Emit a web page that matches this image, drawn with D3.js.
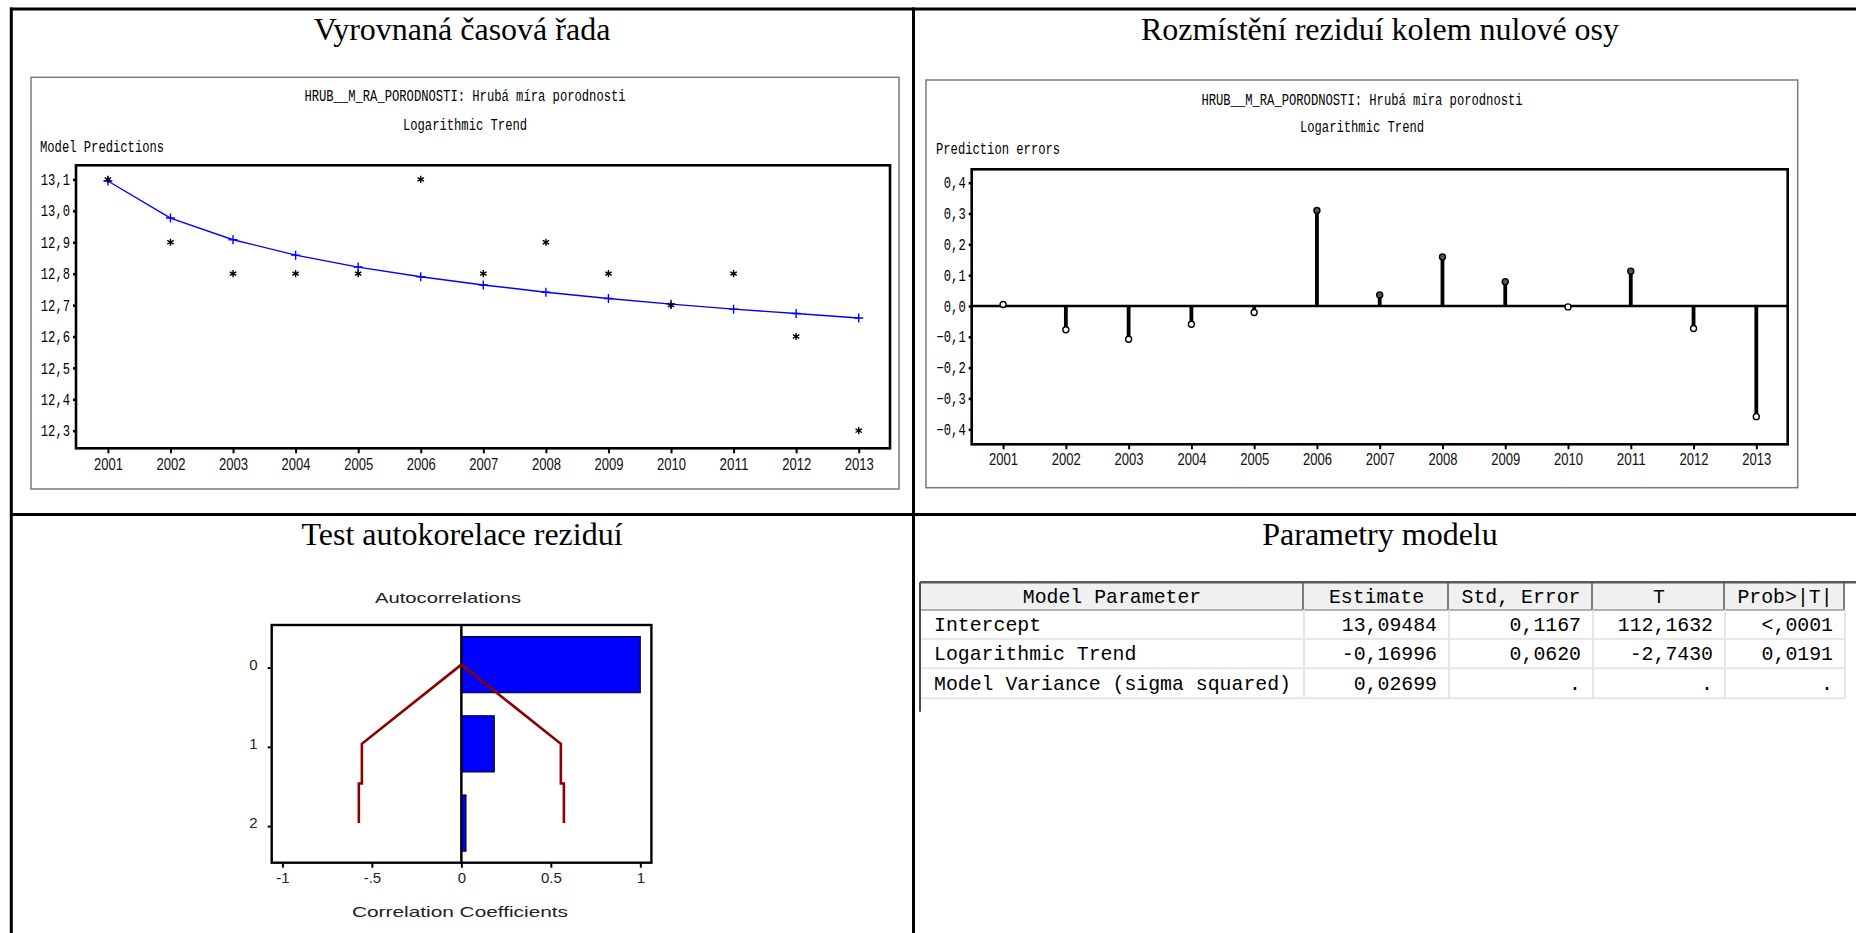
<!DOCTYPE html>
<html>
<head>
<meta charset="utf-8">
<script src="https://cdn.jsdelivr.net/npm/d3@7"></script>
<style>
  body { margin: 0; background: #fff; }
  svg { display: block; }
</style>
</head>
<body>
<svg id="page" width="1856" height="933"></svg>
<script>
// ---- data -------------------------------------------------------------
const years = [2001, 2002, 2003, 2004, 2005, 2006, 2007, 2008, 2009, 2010, 2011, 2012, 2013];
const observed = [13.1, 12.9, 12.8, 12.8, 12.8, 13.1, 12.8, 12.9, 12.8, 12.7, 12.8, 12.6, 12.3];
const predicted = [13.095, 12.977, 12.908, 12.859, 12.821, 12.790, 12.764, 12.741, 12.721, 12.703, 12.687, 12.673, 12.659];
const residuals = [0.005, -0.077, -0.108, -0.059, -0.021, 0.310, 0.036, 0.159, 0.079, -0.003, 0.113, -0.073, -0.359];

const lags = [0, 1, 2];
const acf = [1.0, 0.184, 0.026];
const acfLimits = [0.556, 0.573];

const predTicks = [12.3, 12.4, 12.5, 12.6, 12.7, 12.8, 12.9, 13.0, 13.1];
const residTicks = [-0.4, -0.3, -0.2, -0.1, 0.0, 0.1, 0.2, 0.3, 0.4];
const acfTicks = [-1, -0.5, 0, 0.5, 1];
const acfTickLabels = ["-1", "-.5", "0", "0.5", "1"];

const panelTitles = ["Vyrovnaná časová řada", "Rozmístění reziduí kolem nulové osy",
                     "Test autokorelace reziduí", "Parametry modelu"];
const seriesTitle = "HRUB__M_RA_PORODNOSTI: Hrubá míra porodnosti";
const modelName = "Logarithmic Trend";

const tableHeader = ["Model Parameter", "Estimate", "Std, Error", "T", "Prob>|T|"];
const paramNames = ["Intercept", "Logarithmic Trend", "Model Variance (sigma squared)"];
const estimates = ["13,09484", "-0,16996", "0,02699"];
const stdErrors = ["0,1167", "0,0620", "."];
const tValues = ["112,1632", "-2,7430", "."];
const probs = ["<,0001", "0,0191", "."];

// ---- helpers ----------------------------------------------------------
const svg = d3.select("#page");
const MONO = "'Liberation Mono', 'DejaVu Sans Mono', monospace";
const SANS = "'Liberation Sans', Arial, sans-serif";
const SERIF = "'Liberation Serif', 'Times New Roman', serif";
const commaFmt = f => v => f(v).replace(".", ",");

// condensed bitmap-like monospace text (about 7.3 px per character)
function mono(sel, str, opts = {}) {
  return sel.append("text")
    .attr("font-family", MONO)
    .attr("font-size", opts.size || 16)
    .attr("fill", "#000")
    .attr("dominant-baseline", "central")
    .attr("text-anchor", opts.anchor || "start")
    .attr("x", opts.x).attr("y", opts.y)
    .attr("textLength", str.length * (opts.cw || 7.3))
    .attr("lengthAdjust", "spacingAndGlyphs")
    .text(str);
}

function styleMonoTicks(g, cw) {
  g.selectAll(".tick text")
    .attr("font-family", MONO).attr("font-size", 16).attr("fill", "#000")
    .attr("textLength", function () { return this.textContent.length * cw; })
    .attr("lengthAdjust", "spacingAndGlyphs");
}
function styleYearTicks(g) {
  g.selectAll(".tick text")
    .attr("font-family", SANS).attr("font-size", 16).attr("fill", "#111")
    .attr("textLength", 29).attr("lengthAdjust", "spacingAndGlyphs");
}

// ---- page grid (document table) ---------------------------------------
const grid = svg.append("g").attr("stroke", "#000").attr("stroke-width", 3);
grid.append("line").attr("x1", 11.3).attr("x2", 11.3).attr("y1", 7.5).attr("y2", 933);
grid.append("line").attr("x1", 10).attr("x2", 1856).attr("y1", 9).attr("y2", 9);
grid.append("line").attr("x1", 913.5).attr("x2", 913.5).attr("y1", 7.5).attr("y2", 933);
grid.append("line").attr("x1", 10).attr("x2", 1856).attr("y1", 514.5).attr("y2", 514.5);

const titlePos = [[462, 39.5], [1380, 39.5], [462, 545], [1380, 545]];
panelTitles.forEach((t, i) => {
  svg.append("text")
    .attr("x", titlePos[i][0]).attr("y", titlePos[i][1])
    .attr("text-anchor", "middle")
    .attr("font-family", SERIF).attr("font-size", 32).attr("fill", "#000")
    .text(t);
});

// ---- panel 1: fitted series -------------------------------------------
{
  const g = svg.append("g");
  g.append("rect").attr("x", 31).attr("y", 77.3).attr("width", 868).attr("height", 411.7)
    .attr("fill", "#fff").attr("stroke", "#7a7a7a").attr("stroke-width", 1.5);
  mono(g, seriesTitle, { x: 465, y: 96.7, anchor: "middle" });
  mono(g, modelName, { x: 465, y: 125.7, anchor: "middle" });
  mono(g, "Model Predictions", { x: 40, y: 147.7 });

  const L = 76, R = 890, T = 165.3, B = 448.3;
  const x = d3.scaleLinear().domain([2000.49, 2013.5]).range([L, R]);
  const y = d3.scaleLinear().domain([12.244, 13.145]).range([B, T]);

  const ax = g.append("g").attr("transform", `translate(0,${B})`)
    .call(d3.axisBottom(x).tickValues(years).tickFormat(d3.format("d")).tickSize(5).tickPadding(5).tickSizeOuter(0));
  ax.select(".domain").remove();
  ax.selectAll(".tick line").attr("stroke", "#000").attr("stroke-width", 2);
  styleYearTicks(ax);

  const ay = g.append("g").attr("transform", `translate(${L},0)`)
    .call(d3.axisLeft(y).tickValues(predTicks).tickFormat(commaFmt(d3.format(".1f"))).tickSize(3).tickPadding(3).tickSizeOuter(0));
  ay.select(".domain").remove();
  ay.selectAll(".tick line").attr("stroke", "#000").attr("stroke-width", 2.5);
  styleMonoTicks(ay, 7.3);

  // fitted trend with + markers
  g.append("path").datum(predicted)
    .attr("fill", "none").attr("stroke", "#0000ff").attr("stroke-width", 1.4)
    .attr("d", d3.line().x((d, i) => x(years[i])).y(d => y(d)));
  g.selectAll(".plus").data(predicted).join("path")
    .attr("transform", (d, i) => `translate(${x(years[i])},${y(d)})`)
    .attr("d", "M-4.5,0H4.5M0,-4.5V4.5")
    .attr("stroke", "#0000ff").attr("stroke-width", 1.4).attr("fill", "none");

  // observed values as asterisks
  g.selectAll(".star").data(observed).join("path")
    .attr("transform", (d, i) => `translate(${x(years[i])},${y(d)})`)
    .attr("d", "M0,-3.6V3.6M-3.2,-1.8L3.2,1.8M-3.2,1.8L3.2,-1.8")
    .attr("stroke", "#000").attr("stroke-width", 1.4).attr("fill", "none");

  g.append("rect").attr("x", L).attr("y", T).attr("width", R - L).attr("height", B - T)
    .attr("fill", "none").attr("stroke", "#000").attr("stroke-width", 2.6);
}

// ---- panel 2: residuals around zero -----------------------------------
{
  const g = svg.append("g");
  g.append("rect").attr("x", 926).attr("y", 80).attr("width", 871.7).attr("height", 407.7)
    .attr("fill", "#fff").attr("stroke", "#7a7a7a").attr("stroke-width", 1.5);
  mono(g, seriesTitle, { x: 1362, y: 100.7, anchor: "middle" });
  mono(g, modelName, { x: 1362, y: 128.3, anchor: "middle" });
  mono(g, "Prediction errors", { x: 936, y: 150 });

  const L = 971.7, R = 1787.7, T = 169.3, B = 444.3;
  const x = d3.scaleLinear().domain([2000.5, 2013.5]).range([L, R]);
  const y = d3.scaleLinear().domain([-0.4487, 0.4435]).range([B, T]);

  const ax = g.append("g").attr("transform", `translate(0,${B})`)
    .call(d3.axisBottom(x).tickValues(years).tickFormat(d3.format("d")).tickSize(5).tickPadding(4).tickSizeOuter(0));
  ax.select(".domain").remove();
  ax.selectAll(".tick line").attr("stroke", "#000").attr("stroke-width", 2);
  styleYearTicks(ax);

  const ay = g.append("g").attr("transform", `translate(${L},0)`)
    .call(d3.axisLeft(y).tickValues(residTicks).tickFormat(commaFmt(d3.format(".1f"))).tickSize(3).tickPadding(3).tickSizeOuter(0));
  ay.select(".domain").remove();
  ay.selectAll(".tick line").attr("stroke", "#000").attr("stroke-width", 2.5);
  styleMonoTicks(ay, 7.3);

  g.append("line").attr("x1", L).attr("x2", R).attr("y1", y(0)).attr("y2", y(0))
    .attr("stroke", "#000").attr("stroke-width", 2.5);

  g.selectAll(".stem").data(residuals).join("line")
    .attr("x1", (d, i) => x(years[i])).attr("x2", (d, i) => x(years[i]))
    .attr("y1", y(0)).attr("y2", d => y(d))
    .attr("stroke", "#000").attr("stroke-width", 3.8);
  g.selectAll(".dot").data(residuals).join("circle")
    .attr("cx", (d, i) => x(years[i])).attr("cy", d => y(d)).attr("r", 3)
    .attr("fill", d => d > 0.02 ? "#555" : "#fff").attr("stroke", "#000").attr("stroke-width", 1.4);

  g.append("rect").attr("x", L).attr("y", T).attr("width", R - L).attr("height", B - T)
    .attr("fill", "none").attr("stroke", "#000").attr("stroke-width", 2.6);
}

// ---- panel 3: residual autocorrelations -------------------------------
{
  const g = svg.append("g");
  const L = 271.7, R = 651.4, T = 625, B = 862.7;
  const x = d3.scaleLinear().domain([-1.06, 1.062]).range([L, R]);
  const y = d3.scaleLinear().domain([-0.5, 2.5]).range([T, B]);

  g.append("text").attr("x", 448).attr("y", 597.7).attr("dominant-baseline", "central")
    .attr("text-anchor", "middle").attr("font-family", SANS).attr("font-size", 15).attr("fill", "#222")
    .attr("textLength", 146).attr("lengthAdjust", "spacingAndGlyphs")
    .text("Autocorrelations");
  g.append("text").attr("x", 460).attr("y", 911.7).attr("dominant-baseline", "central")
    .attr("text-anchor", "middle").attr("font-family", SANS).attr("font-size", 15).attr("fill", "#222")
    .attr("textLength", 216).attr("lengthAdjust", "spacingAndGlyphs")
    .text("Correlation Coefficients");

  g.selectAll(".bar").data(acf).join("rect")
    .attr("x", d => Math.min(x(0), x(d)))
    .attr("width", d => Math.abs(x(d) - x(0)))
    .attr("y", (d, i) => y(lags[i] - 0.355))
    .attr("height", y(0.355) - y(-0.355))
    .attr("fill", "#0000ff").attr("stroke", "#000").attr("stroke-width", 1);

  g.append("line").attr("x1", x(0)).attr("x2", x(0)).attr("y1", T).attr("y2", B)
    .attr("stroke", "#000").attr("stroke-width", 2.5);

  // confidence limits (±)
  const limitPts = s => [[0, lags[0]], [s * acfLimits[0], lags[1]], [s * acfLimits[0], lags[1] + 0.5],
                         [s * acfLimits[1], lags[1] + 0.5], [s * acfLimits[1], lags[2]]];
  const limLine = d3.line().x(d => x(d[0])).y(d => y(d[1]));
  [-1, 1].forEach(s => {
    g.append("path").datum(limitPts(s)).attr("d", limLine)
      .attr("fill", "none").attr("stroke", "#8b0000").attr("stroke-width", 2.6);
  });

  const ax = g.append("g").attr("transform", `translate(0,${B})`)
    .call(d3.axisBottom(x).tickValues(acfTicks).tickFormat((d, i) => acfTickLabels[i]).tickSize(5).tickPadding(5).tickSizeOuter(0));
  ax.select(".domain").remove();
  ax.selectAll(".tick line").attr("stroke", "#000").attr("stroke-width", 2);
  ax.selectAll(".tick text").attr("font-family", SANS).attr("font-size", 15).attr("fill", "#222");

  const ay = g.append("g").attr("transform", `translate(${L},0)`)
    .call(d3.axisLeft(y).tickValues(lags).tickFormat(d3.format("d")).tickSize(3).tickPadding(11).tickSizeOuter(0));
  ay.select(".domain").remove();
  ay.selectAll(".tick line").attr("stroke", "#000").attr("stroke-width", 2).attr("transform", "translate(-1,3)");
  ay.selectAll(".tick text").attr("font-family", SANS).attr("font-size", 15).attr("fill", "#222");

  g.append("rect").attr("x", L).attr("y", T).attr("width", R - L).attr("height", B - T)
    .attr("fill", "none").attr("stroke", "#000").attr("stroke-width", 2.4);
}

// ---- panel 4: parameter table -----------------------------------------
{
  const g = svg.append("g");
  const colX = [920, 1304, 1449, 1593, 1725, 1845];
  const rowY = [582.3, 610, 639, 668.3, 698.3];
  const body = paramNames.map((n, i) => [n, estimates[i], stdErrors[i], tValues[i], probs[i]]);

  // header cells
  tableHeader.forEach((h, c) => {
    g.append("rect").attr("x", colX[c]).attr("y", rowY[0])
      .attr("width", colX[c + 1] - colX[c]).attr("height", rowY[1] - rowY[0])
      .attr("fill", "#f0f0f0");
    g.append("line").attr("x1", colX[c + 1] - 1).attr("x2", colX[c + 1] - 1)
      .attr("y1", rowY[0]).attr("y2", rowY[1]).attr("stroke", "#7d7d7d").attr("stroke-width", 2);
    g.append("text").attr("x", (colX[c] + colX[c + 1]) / 2).attr("y", (rowY[0] + rowY[1]) / 2 + 1)
      .attr("text-anchor", "middle").attr("dominant-baseline", "central")
      .attr("font-family", MONO).attr("font-size", 21).attr("fill", "#000")
      .attr("textLength", h.length * 11.9).attr("lengthAdjust", "spacingAndGlyphs")
      .text(h);
  });
  g.append("line").attr("x1", colX[0]).attr("x2", colX[5]).attr("y1", rowY[1]).attr("y2", rowY[1])
    .attr("stroke", "#9a9a9a").attr("stroke-width", 1.5);

  // body cells
  body.forEach((row, r) => {
    const y0 = rowY[r + 1], y1 = rowY[r + 2];
    g.append("line").attr("x1", colX[0]).attr("x2", colX[5]).attr("y1", y1).attr("y2", y1)
      .attr("stroke", "#e6e6e6").attr("stroke-width", 2);
    row.forEach((v, c) => {
      if (c > 0) {
        g.append("line").attr("x1", colX[c]).attr("x2", colX[c]).attr("y1", y0).attr("y2", y1)
          .attr("stroke", "#e6e6e6").attr("stroke-width", 2);
      }
      const right = c > 0;
      g.append("text")
        .attr("x", right ? colX[c + 1] - 12 : colX[0] + 14)
        .attr("y", (y0 + y1) / 2 + 1)
        .attr("text-anchor", right ? "end" : "start")
        .attr("dominant-baseline", "central")
        .attr("font-family", MONO).attr("font-size", 21).attr("fill", "#000")
        .attr("textLength", v.length * 11.9).attr("lengthAdjust", "spacingAndGlyphs")
        .text(v);
    });
  });
  g.append("line").attr("x1", colX[5]).attr("x2", colX[5]).attr("y1", rowY[1]).attr("y2", rowY[4])
    .attr("stroke", "#e6e6e6").attr("stroke-width", 2);

  // outer strokes
  g.append("line").attr("x1", colX[0]).attr("x2", 1856).attr("y1", rowY[0]).attr("y2", rowY[0])
    .attr("stroke", "#5a5a5a").attr("stroke-width", 2.5);
  g.append("line").attr("x1", colX[0]).attr("x2", colX[0]).attr("y1", rowY[0]).attr("y2", 711.7)
    .attr("stroke", "#4a4a4a").attr("stroke-width", 2);
}
</script>
</body>
</html>
